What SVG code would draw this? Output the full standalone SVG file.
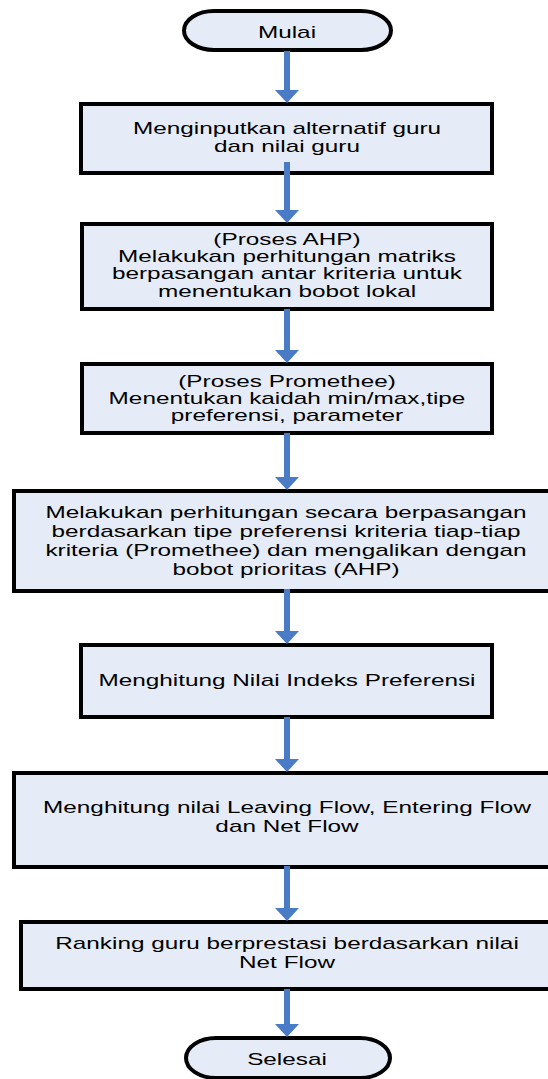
<svg xmlns="http://www.w3.org/2000/svg" width="548" height="1079" viewBox="0 0 548 1079">
<style>
.box{fill:#E6ECF7;stroke:#000;stroke-width:4}
.term{fill:#E6ECF7;stroke:#000;stroke-width:4}
.lbl{font-family:"Liberation Sans",Arial,sans-serif;font-size:16px;fill:#000;text-anchor:middle}
.con{stroke:#4A7BC6;stroke-width:6;fill:none}
</style>
<defs>
<marker id="ah" markerUnits="userSpaceOnUse" markerWidth="13" markerHeight="24" viewBox="0 -12 13 24" refX="0" refY="0" orient="auto">
<path d="M0,-12 L13,0 L0,12 Z" fill="#4A7BC6"/>
</marker>
</defs>
<rect width="548" height="1079" fill="#fff"/>
<g id="start">
<rect class="term" x="184" y="11" width="207" height="39" rx="30" ry="19.5"/>
<g transform="translate(287 0) scale(1.52 1)"><text class="lbl" x="0" y="38">Mulai</text></g>
</g>
<g id="n1">
<rect class="box" x="81" y="104" width="411" height="69"/>
<g transform="translate(287 0) scale(1.52 1)">
<text class="lbl" x="0" y="134">Menginputkan alternatif guru</text>
<text class="lbl" x="0" y="152">dan nilai guru</text>
</g>
</g>
<g id="n2">
<rect class="box" x="82" y="224" width="410" height="85"/>
<g transform="translate(287 0) scale(1.52 1)">
<text class="lbl" x="0" y="245">(Proses AHP)</text>
<text class="lbl" x="0" y="262">Melakukan perhitungan matriks</text>
<text class="lbl" x="0" y="279">berpasangan antar kriteria untuk</text>
<text class="lbl" x="0" y="297">menentukan bobot lokal</text>
</g>
</g>
<g id="n3">
<rect class="box" x="82" y="364" width="410" height="69"/>
<g transform="translate(287 0) scale(1.52 1)">
<text class="lbl" x="0" y="387">(Proses Promethee)</text>
<text class="lbl" x="0" y="404">Menentukan kaidah min/max,tipe</text>
<text class="lbl" x="0" y="421">preferensi, parameter</text>
</g>
</g>
<g id="n4">
<rect class="box" x="14" y="491" width="540" height="100"/>
<g transform="translate(286 0) scale(1.52 1)">
<text class="lbl" x="0" y="518">Melakukan perhitungan secara berpasangan</text>
<text class="lbl" x="0" y="537">berdasarkan tipe preferensi kriteria tiap-tiap</text>
<text class="lbl" x="0" y="556">kriteria (Promethee) dan mengalikan dengan</text>
<text class="lbl" x="0" y="575">bobot prioritas (AHP)</text>
</g>
</g>
<g id="n5">
<rect class="box" x="81" y="645" width="411" height="72"/>
<g transform="translate(287 0) scale(1.52 1)">
<text class="lbl" x="0" y="686">Menghitung Nilai Indeks Preferensi</text>
</g>
</g>
<g id="n6">
<rect class="box" x="14" y="773" width="540" height="94"/>
<g transform="translate(287 0) scale(1.52 1)">
<text class="lbl" x="0" y="813">Menghitung nilai Leaving Flow, Entering Flow</text>
<text class="lbl" x="0" y="832">dan Net Flow</text>
</g>
</g>
<g id="n7">
<rect class="box" x="21" y="922" width="533" height="67"/>
<g transform="translate(287 0) scale(1.52 1)">
<text class="lbl" x="0" y="949">Ranking guru berprestasi berdasarkan nilai</text>
<text class="lbl" x="0" y="968">Net Flow</text>
</g>
</g>
<g id="end">
<rect class="term" x="186" y="1038" width="204" height="40" rx="30" ry="20"/>
<g transform="translate(287 0) scale(1.52 1)"><text class="lbl" x="0" y="1065">Selesai</text></g>
</g>
<g id="connectors">
<line class="con" x1="287" y1="51" x2="287" y2="90" marker-end="url(#ah)"/>
<line class="con" x1="287" y1="162" x2="287" y2="210" marker-end="url(#ah)"/>
<line class="con" x1="287" y1="309" x2="287" y2="350" marker-end="url(#ah)"/>
<line class="con" x1="287" y1="433" x2="287" y2="477" marker-end="url(#ah)"/>
<line class="con" x1="287" y1="589" x2="287" y2="631" marker-end="url(#ah)"/>
<line class="con" x1="287" y1="717" x2="287" y2="759" marker-end="url(#ah)"/>
<line class="con" x1="287" y1="866" x2="287" y2="908" marker-end="url(#ah)"/>
<line class="con" x1="287" y1="989" x2="287" y2="1024" marker-end="url(#ah)"/>
</g>
</svg>
